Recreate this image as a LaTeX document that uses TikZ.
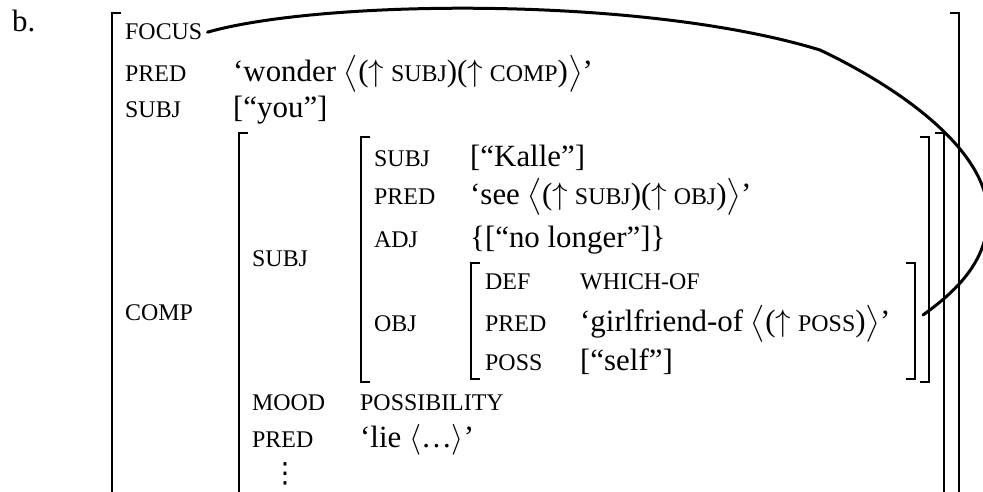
\documentclass[tikz,border=0pt]{standalone}
\usepackage{fontspec}
\setmainfont{Liberation Serif}
\newfontfamily\dvsans{DejaVu Sans}
\DeclareFontShape{OMX}{cmex}{m}{n}{<->cmex10}{}
\DeclareFontShape{OMS}{cmsy}{m}{n}{<->cmsy10}{}
\DeclareFontShape{OML}{cmm}{m}{it}{<->cmmi10}{}
\newcommand\valfont{\fontsize{31}{37}\selectfont}
\newcommand\lblfont{\fontsize{24}{29}\selectfont}
\newcommand\smc[1]{{\lblfont #1}}
\newcommand\lang{$\nulldelimiterspace=0pt\left\langle\vcenter to 36bp{}\right.$}
\newcommand\rang{$\nulldelimiterspace=0pt\left.\vcenter to 36bp{}\right\rangle$}
\newcommand\upa{$\uparrow$\hspace{7bp}}
\tikzset{
  lbl/.style={anchor=base west, inner sep=0pt, font=\lblfont},
  val/.style={anchor=base west, inner sep=0pt, font=\valfont},
  brk/.style={line width=1.5bp},
  link/.style={line width=3bp, line cap=round},
}
\begin{document}
\begin{tikzpicture}[x=1bp,y=-1bp]
\useasboundingbox (0,0) rectangle (983,492);
\fill[white] (0,0) rectangle (983,492);
\clip (0,0) rectangle (983,492);
% example label
\node[val] (b) at (12,32) {b.};
% outer f-structure
\node[lbl] (focus) at (125,40) {FOCUS};
\node[lbl] (pred0) at (125,82) {PRED};
\node[val] (wonder) at (233,82) {‘wonder \lang(\upa\smc{SUBJ})(\upa\smc{COMP})\rang’};
\node[lbl] (subj0) at (125,118) {SUBJ};
\node[val] (you) at (233,118) {[“you”]};
\node[lbl] (comp0) at (125,321) {COMP};
% COMP f-structure
\node[lbl] (subj1) at (252,267) {SUBJ};
\node[lbl] (mood1) at (252,410) {MOOD};
\node[lbl] (possib) at (360,410) {POSSIBILITY};
\node[lbl] (pred1) at (252,447) {PRED};
\node[val] (lie) at (360,447) {‘lie $\langle$…$\rangle$’};
\node[anchor=base west, inner sep=0pt, font=\dvsans\fontsize{28}{28}\selectfont] (vdots) at (271,482) {⋮};
% SUBJ f-structure
\node[lbl] (subj2) at (374,167) {SUBJ};
\node[val] (kalle) at (470,167) {[“Kalle”]};
\node[lbl] (pred2) at (374,205) {PRED};
\node[val] (see) at (470,205) {‘see \lang(\upa\smc{SUBJ})(\upa\smc{OBJ})\rang’};
\node[lbl] (adj2) at (374,248) {ADJ};
\node[val] (nolonger) at (470,248) {\{[“no longer”]\}};
\node[lbl] (obj2) at (374,332) {OBJ};
% OBJ f-structure
\node[lbl] (def3) at (485,290) {DEF};
\node[lbl] (whichof) at (580,290) {WHICH-OF};
\node[lbl] (pred3) at (485,332) {PRED};
\node[val] (girl) at (580,332) {‘girlfriend-of \lang(\upa\smc{POSS})\rang’};
\node[lbl] (poss3) at (485,371) {POSS};
\node[val] (self) at (580,371) {[“self”]};
% left brackets
\draw[brk] (121,13) -- (112,13) -- (112,496);
\draw[brk] (248,133) -- (239,133) -- (239,496);
\draw[brk] (370,137) -- (361,137) -- (361,382) -- (370,382);
\draw[brk] (480,263) -- (471,263) -- (471,379) -- (480,379);
% right brackets
\draw[brk] (906,263) -- (915,263) -- (915,379) -- (906,379);
\draw[brk] (920,137) -- (929,137) -- (929,382) -- (920,382);
\draw[brk] (935,133) -- (944,133) -- (944,496);
\draw[brk] (950,13) -- (959,13) -- (959,496);
% FOCUS link
\coordinate (fend) at (923,315);
\draw[link] ([xshift=5bp]focus.east) .. controls (320,0) and (640,-5) .. (820,50)
  .. controls (900,88) and (988,150) .. (988,215)
  .. controls (988,262) and (955,292) .. (fend);
\end{tikzpicture}
\end{document}
